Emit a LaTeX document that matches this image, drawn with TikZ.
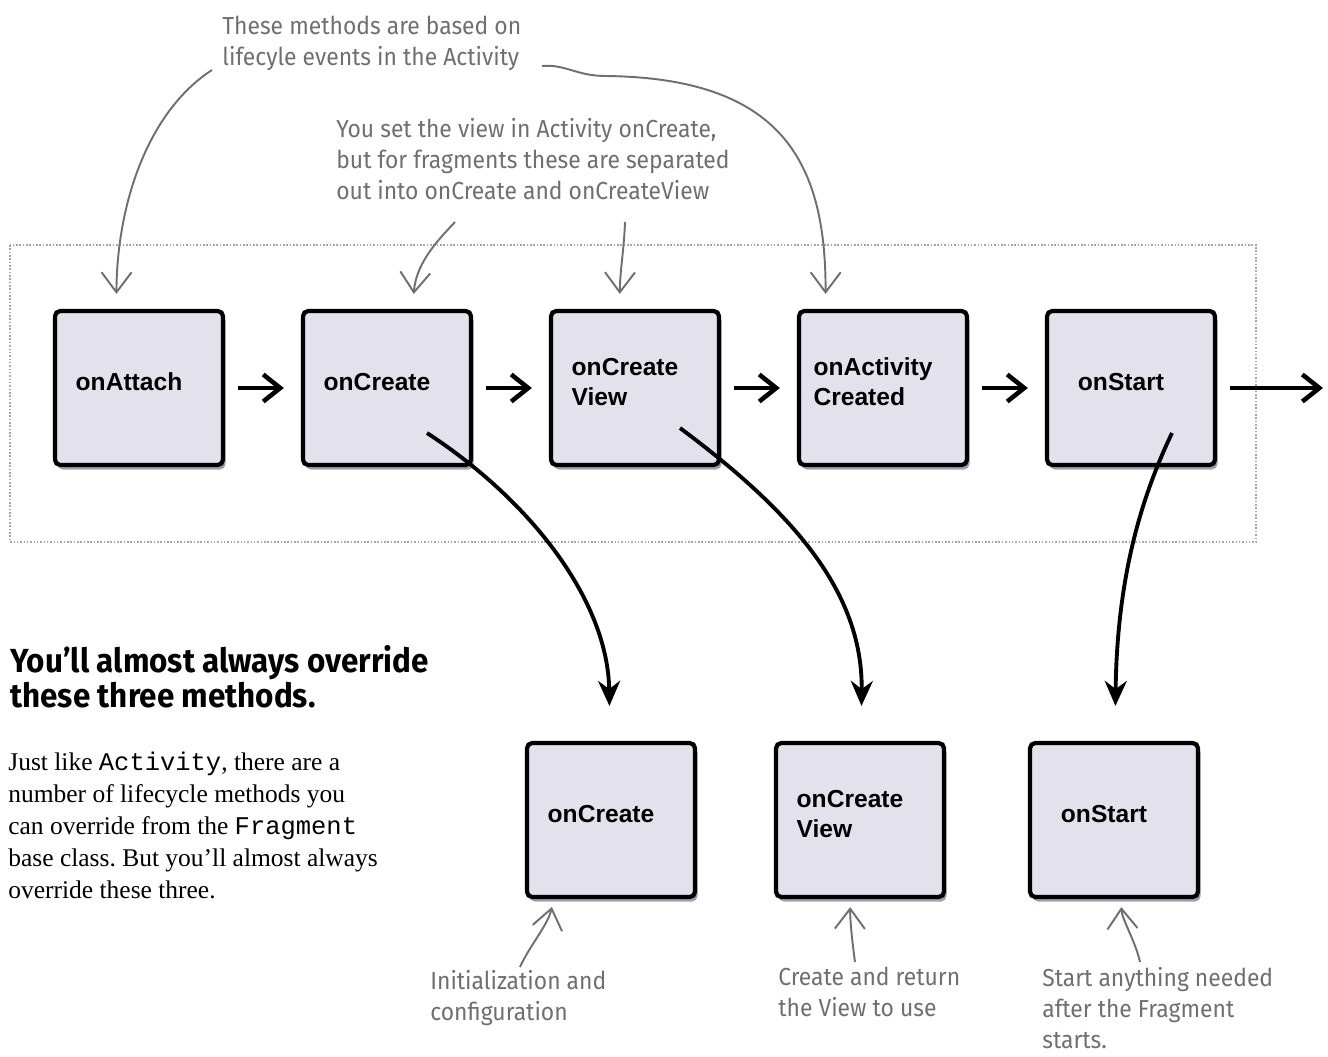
\documentclass[tikz,border=0pt]{standalone}
\usepackage{fontspec}
\usepackage{tikz}
\usetikzlibrary{arrows.meta,positioning,calc,shadows}
\setmainfont{Liberation Serif}
\setmonofont{Liberation Mono}
\newfontfamily\labelfont{Liberation Sans}
\newfontfamily\handfont[FakeStretch=0.93]{Fira Sans}
\newfontfamily\headfont[FakeStretch=0.94]{Fira Sans}
\definecolor{boxfill}{HTML}{E3E1EC}
\definecolor{boxshade}{HTML}{7A7298}
\definecolor{notegray}{HTML}{6F6F6F}
\frenchspacing

\tikzset{
  box/.style={draw=black, line width=2.4pt, fill=boxfill, rounded corners=3pt,
    minimum width=33.6mm, minimum height=30.8mm, inner sep=0pt,
    drop shadow={fill=boxshade, opacity=0.7, shadow xshift=0.5mm, shadow yshift=-0.9mm}},
  boxlabel/.style={font=\labelfont\bfseries\fontsize{14}{17}\selectfont, align=left, inner sep=0pt},
  flow/.style={line width=2.6pt, -{Straight Barb[length=3.4mm,width=5.4mm]}, shorten <=2.6mm, shorten >=3.4mm},
  call/.style={line width=2.2pt, -{Stealth[length=5mm,width=4.4mm]}, shorten >=7mm},
  note/.style={font=\handfont\fontsize{14}{17.5}\selectfont, text=notegray, align=left, inner sep=0pt, anchor=north west},
  pointer/.style={draw=notegray, line width=1.1pt, -{Straight Barb[length=4mm,width=6mm]}},
}

\begin{document}
\begin{tikzpicture}[x=0.2mm, y=-0.2mm]
  \useasboundingbox (0,0) rectangle (1328,1056);
  \draw[gray!70, densely dotted, line width=0.9pt] (10,245) rectangle (1256,542);

  % fragment lifecycle
  \foreach \n/\x/\txt in {attach/139/onAttach, create/387/onCreate, view/635/{onCreate\\View}, act/883/{onActivity\\Created}, start/1131/onStart} {
    \node[box] (\n) at (\x,388) {};
    \node[boxlabel] (\n-t) at ([shift={(-10,-6)}]\n.center) {\txt};
  }
  \foreach \a/\b in {attach/create, create/view, view/act, act/start}
    \draw[flow] (\a) -- (\b);
  \coordinate (exit) at (1323,388);
  \draw[flow, shorten >=0pt] (start) -- (exit);

  % the three you override
  \foreach \n/\x/\txt in {bcreate/611/onCreate, bview/860/{onCreate\\View}, bstart/1114/onStart} {
    \node[box] (\n) at (\x,820) {};
    \node[boxlabel] (\n-t) at ([shift={(-10,-6)}]\n.center) {\txt};
  }
  \coordinate (create-out) at ([shift={(40,45)}]create.center);
  \coordinate (view-out) at ([shift={(45,40)}]view.center);
  \coordinate (start-out) at ([shift={(41,45)}]start.center);
  \draw[call] (create-out) .. controls (530,500) and (608,600) .. (bcreate);
  \draw[call] (view-out) .. controls (790,510) and (863,590) .. (bview);
  \draw[call] (start-out) .. controls (1140,500) and (1117,580) .. (bstart);

  % notes
  \node[note] (evt) at (222,16) {These methods are based on\\lifecyle events in the Activity};
  \node[note] (split) at (336,118) {You set the view in Activity onCreate,\\but for fragments these are separated\\out into onCreate and onCreateView};
  \node[note] (init) at (430,970) {Initialization and\\configuration};
  \node[note] (ret) at (778,967) {Create and return\\the View to use};
  \node[note] (go) at (1042,967) {Start anything needed\\after the Fragment\\starts.};

  \coordinate (evt-a) at (212,70);
  \coordinate (evt-b) at (542,66);
  \coordinate (split-a) at (455,222);
  \coordinate (split-b) at (625,222);
  \coordinate (init-a) at (520,967);
  \coordinate (ret-a) at (855,962);
  \coordinate (go-a) at (1140,962);
  \draw[pointer, shorten >=3mm] (evt-a) .. controls (150,110) and (117,200) .. (attach.106);
  \draw[pointer, shorten >=3mm] (evt-b) .. controls (566,64) and (576,76) .. (606,76) .. controls (780,78) and (826,160) .. (act.126);
  \draw[pointer, shorten >=3mm] (split-a) .. controls (440,238) and (416,262) .. (create.72);
  \draw[pointer, shorten >=3mm] (split-b) .. controls (624,250) and (620,270) .. (view.101);
  \draw[pointer, shorten >=1.6mm] (init-a) .. controls (530,945) and (548,925) .. (bcreate.234);
  \draw[pointer, shorten >=1.6mm] (ret-a) .. controls (852,940) and (850,920) .. (bview.263);
  \draw[pointer, shorten >=1.6mm] (go-a) .. controls (1135,940) and (1122,920) .. (bstart.275);

  % side text
  \node[anchor=north west, inner sep=0pt, align=left, font=\headfont\bfseries\fontsize{19}{20}\selectfont] (head) at (10,645) {You’ll almost always override\\these three methods.};
  \node[anchor=north west, inner sep=0pt, align=left, font=\fontsize{14.5}{18.2}\selectfont] (body) at (8,752) {Just like \texttt{Activity}, there are a\\number of lifecycle methods you\\can override from the \texttt{Fragment}\\base class. But you’ll almost always\\override these three.};
\end{tikzpicture}
\end{document}
